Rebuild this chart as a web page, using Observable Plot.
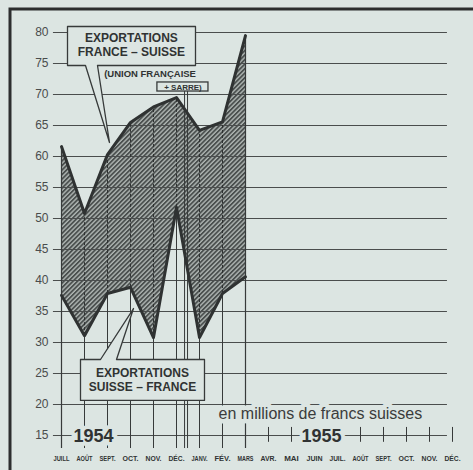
<!DOCTYPE html>
<html><head><meta charset="utf-8">
<script src="https://cdn.jsdelivr.net/npm/d3@7"></script>
<script src="https://cdn.jsdelivr.net/npm/@observablehq/plot@0.6"></script>
<style>body{margin:0;background:#dce5e2;} svg{display:block;}</style>
</head><body><div id="chart"></div>
<script>
// ---- data ----
const months = ["JUILL","AOÛT","SEPT.","OCT.","NOV.","DÉC.","JANV.","FÉV.","MARS","AVR.","MAI","JUIN","JUIL.","AOÛT","SEPT.","OCT.","NOV.","DÉC."];
const years = ["1954", "1955"];
const yearPos = [1.39, 11.30];
const franceSuisse = [61.6, 50.8, 60.3, 65.5, 68.0, 69.5, 64.2, 65.6, 79.5];
const suisseFrance = [37.6, 31.1, 37.9, 38.9, 30.8, 51.8, 30.8, 37.9, 40.6];
const yTicks = [15, 20, 25, 30, 35, 40, 45, 50, 55, 60, 65, 70, 75, 80];
const unitLabel = "en millions de francs suisses";
const box1Lines = ["EXPORTATIONS", "FRANCE – SUISSE"];
const box2Lines = ["EXPORTATIONS", "SUISSE – FRANCE"];
const noteLine1 = "(UNION FRANÇAISE";
const noteLine2 = "+ SARRE)";

// ---- derived tables ----
const rows = franceSuisse.map((v, i) => ({i, fs: v, sf: suisseFrance[i]}));
const ink = "#373a3a";
const bg = "#dce5e2";
const bottomY = 12.9;

// annotation geometry (data units: month index, millions)
const box1 = [[1.565,74.68],[5.826,74.68],[5.826,80.97],[0.261,80.97],[0.261,74.68],[1.043,74.68],[2.087,62.26],[1.565,74.68]];
const box2 = [[2.391,27.26],[6.217,27.26],[6.217,20.65],[0.826,20.65],[0.826,27.26],[1.696,27.26],[3.130,35.48],[2.391,27.26]];

function hatchDefs() {
  const d = document.createElementNS("http://www.w3.org/2000/svg", "defs");
  d.innerHTML = `<pattern id="hatch" patternUnits="userSpaceOnUse" width="3.2" height="3.2" patternTransform="rotate(45)">
    <rect width="3.2" height="3.2" fill="#aeb5b2"></rect>
    <rect width="1.8" height="3.2" fill="#4a4f4e"></rect></pattern>`;
  return d;
}
function border(index, scales, values, dims) {
  const p = document.createElementNS("http://www.w3.org/2000/svg", "path");
  p.setAttribute("d", `M10,${dims.height} V9 H${dims.width}`);
  p.setAttribute("fill", "none");
  p.setAttribute("stroke", "#2c2e2e");
  p.setAttribute("stroke-width", "3");
  return p;
}

const inner = d3.range(1, 8);
const after = d3.range(9, 18).filter(i => i !== 11 && i !== 12);

const chart = Plot.plot({
  width: 473, height: 470,
  marginLeft: 61, marginRight: 21, marginTop: 32, marginBottom: 35,
  x: {domain: [0, 17], axis: null},
  y: {domain: [15, 80]},
  style: {background: bg, color: ink, fontFamily: "Liberation Sans, sans-serif"},
  marks: [
    hatchDefs,
    border,
    Plot.areaY(rows, {x: "i", y1: "sf", y2: "fs", fill: "url(#hatch)"}),
    // horizontal grid
    Plot.ruleY(yTicks, {x1: -0.35, x2: 16.78, stroke: "#4a4d4d", strokeWidth: 1}),
    // vertical month lines
    Plot.ruleX([0, 8], {x: d => d, y1: bottomY, y2: d => franceSuisse[d], stroke: ink, strokeWidth: 1.2}),
    Plot.ruleX(inner, {x: d => d, y1: bottomY, y2: d => suisseFrance[d], stroke: ink, strokeWidth: 1}),
    Plot.ruleX(inner, {x: d => d, y1: d => suisseFrance[d], y2: d => franceSuisse[d], stroke: "#2e3131", strokeWidth: 1, strokeDasharray: "3,2"}),
    Plot.ruleX(after, {x: d => d, y1: 13.9, y2: 16.3, stroke: ink, strokeWidth: 1}),
    // double marker line (Union française + Sarre)
    Plot.ruleX([5.35, 5.48], {y1: bottomY, y2: 70.48, stroke: ink, strokeWidth: 1}),
    // series lines
    Plot.line(rows, {x: "i", y: "fs", stroke: "#2f3232", strokeWidth: 3, strokeLinejoin: "round"}),
    Plot.line(rows, {x: "i", y: "sf", stroke: "#2f3232", strokeWidth: 3, strokeLinejoin: "round"}),
    // annotation boxes
    Plot.line(box1, {x: d => d[0], y: d => d[1], fill: bg, stroke: ink, strokeWidth: 1.3}),
    Plot.text(box1Lines, {x: 3.04, y: (d, i) => [79.03, 76.77][i], text: d => d, fontWeight: "bold", fontSize: 12, fill: "#303333"}),
    Plot.line(box2, {x: d => d[0], y: d => d[1], fill: bg, stroke: ink, strokeWidth: 1.3}),
    Plot.text(box2Lines, {x: 3.52, y: (d, i) => [25.0, 22.74][i], text: d => d, fontWeight: "bold", fontSize: 12, fill: "#303333"}),
    // note
    Plot.text([noteLine1], {x: 3.85, y: 73.39, text: d => d, fontWeight: "bold", fontSize: 9.5, fill: "#303333"}),
    Plot.rect([0], {x1: 4.17, x2: 6.39, y1: 70.48, y2: 71.94, fill: bg, stroke: ink, strokeWidth: 1.3}),
    Plot.text([noteLine2], {x: 5.28, y: 71.2, text: d => d, fontWeight: "bold", fontSize: 8, fill: "#303333"}),
    // unit label & years with halos
    Plot.text([unitLabel], {x: 6.83, y: 18.55, text: d => d, textAnchor: "start", fontSize: 16, fill: "#3a3c3c", stroke: bg, strokeWidth: 9}),
    Plot.text(years, {x: (d, i) => yearPos[i], y: 14.84, text: d => d, fontWeight: "bold", fontSize: 18, fill: "#303333", stroke: bg, strokeWidth: 8}),
    // month labels
    Plot.text(months, {x: (d, i) => i, y: 11.29, text: d => d, fontWeight: "bold", fontSize: 8, fill: "#303333", className: "month-labels"}),
    // y axis
    Plot.axisY({ticks: yTicks, tickSize: 0, tickPadding: 13, fontSize: 12, fill: "#4a4c4c"})
  ]
});
document.getElementById("chart").append(chart);
// condense month labels to the narrow width of the original lettering
d3.select(chart).selectAll(".month-labels text").each(function () {
  const w = this.getComputedTextLength();
  const target = Math.min(w, 16);
  this.setAttribute("textLength", target);
  this.setAttribute("lengthAdjust", "spacingAndGlyphs");
});
</script>
</body></html>
